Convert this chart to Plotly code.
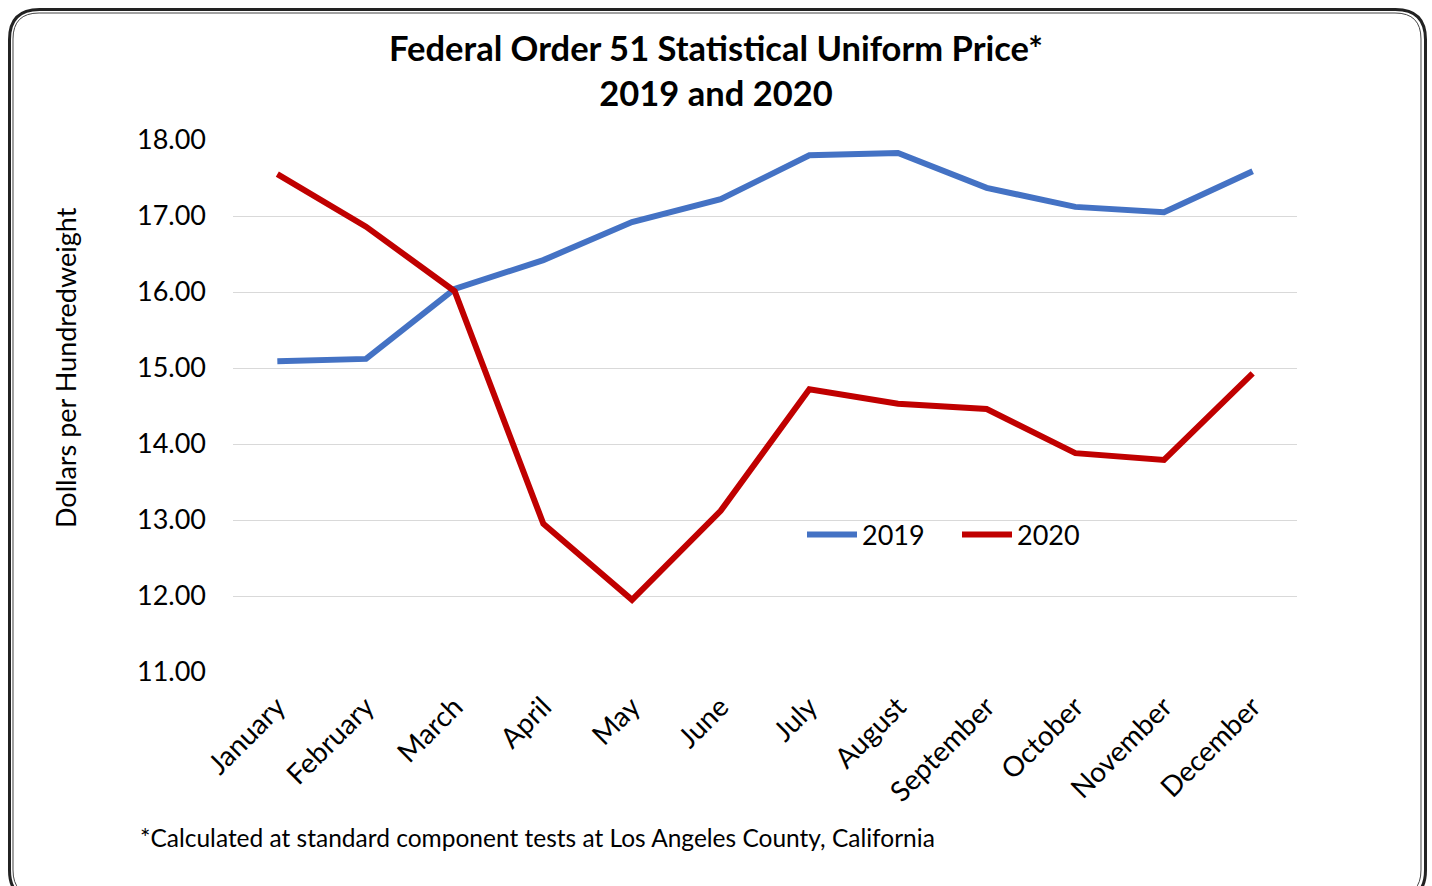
import plotly.graph_objects as go

months = ["January", "February", "March", "April", "May", "June", "July",
          "August", "September", "October", "November", "December"]
price_2019 = [15.09, 15.12, 16.04, 16.42, 16.92, 17.22, 17.80, 17.83, 17.37, 17.12, 17.05, 17.59]
price_2020 = [17.55, 16.86, 16.01, 12.95, 11.95, 13.12, 14.72, 14.53, 14.46, 13.88, 13.79, 14.93]
y_ticks = [11, 12, 13, 14, 15, 16, 17, 18]

W, H = 1432, 886
L, R, T, B = 233, 1297, 140, 672
FONT = "Lato"

def px_x(x):
    return (x - L) / (R - L)

def px_y(y):
    return (B - y) / (B - T)

def rounded_rect(x0, y0, x1, y1, r):
    pts = []
    a = lambda x, y: f"{px_x(x):.5f},{px_y(y):.5f}"
    pts.append("M" + a(x0 + r, y0))
    pts.append("L" + a(x1 - r, y0))
    pts.append("Q" + a(x1, y0) + " " + a(x1, y0 + r))
    pts.append("L" + a(x1, y1 - r))
    pts.append("Q" + a(x1, y1) + " " + a(x1 - r, y1))
    pts.append("L" + a(x0 + r, y1))
    pts.append("Q" + a(x0, y1) + " " + a(x0, y1 - r))
    pts.append("L" + a(x0, y0 + r))
    pts.append("Q" + a(x0, y0) + " " + a(x0 + r, y0))
    pts.append("Z")
    return " ".join(pts)

fig = go.Figure()
fig.add_trace(go.Scatter(x=months, y=price_2019, mode="lines", name="2019",
                         line=dict(color="#4472C4", width=6)))
fig.add_trace(go.Scatter(x=months, y=price_2020, mode="lines", name="2020",
                         line=dict(color="#C00000", width=6)))

fig.add_shape(type="path", xref="paper", yref="paper",
              path=rounded_rect(9.5, 9.5, 1425.5, 900, 30),
              line=dict(color="#222222", width=3), layer="above")
fig.add_shape(type="path", xref="paper", yref="paper",
              path=rounded_rect(13, 13, 1421, 896, 26),
              line=dict(color="#444444", width=1), layer="above")

fig.add_annotation(text="*Calculated at standard component tests at Los Angeles County, California",
                   xref="paper", yref="paper", x=px_x(138), y=px_y(837),
                   xanchor="left", yanchor="middle", showarrow=False,
                   font=dict(family=FONT, size=24.5, color="#000000"))

fig.add_annotation(text="Dollars per Hundredweight", textangle=-90,
                   xref="paper", yref="paper", x=px_x(65), y=px_y(368),
                   xanchor="center", yanchor="middle", showarrow=False,
                   font=dict(family=FONT, size=27, color="#000000"))

fig.update_layout(
    width=W, height=H,
    margin=dict(l=L, r=W - R, t=T, b=H - B, pad=0),
    paper_bgcolor="white", plot_bgcolor="white",
    font=dict(family=FONT, color="#000000"),
    title=dict(text="<b>Federal Order 51 Statistical Uniform Price*<br>2019 and 2020</b>",
               x=0.5, xref="container", xanchor="center",
               y=1 - 61 / H, yref="container", yanchor="middle",
               font=dict(family=FONT, size=34.5, color="#000000")),
    showlegend=True,
    legend=dict(orientation="h", x=px_x(802), y=px_y(535), xanchor="left", yanchor="middle",
                font=dict(family=FONT, size=27, color="#000000"),
                bgcolor="rgba(0,0,0,0)", itemwidth=50, entrywidth=90, tracegroupgap=0),
    xaxis=dict(type="category", categoryorder="array", categoryarray=months,
               range=[-0.5, 11.5], showgrid=False, showline=False, ticks="",
               tickangle=-45, ticklabelstandoff=12,
               tickfont=dict(family=FONT, size=28, color="#000000"),
               fixedrange=True),
    yaxis=dict(range=[11, 18], tickvals=y_ticks,
               ticktext=[f"{v:.2f}" for v in y_ticks],
               showgrid=True, gridcolor="#D9D9D9", gridwidth=1.3, zeroline=False,
               showline=False, ticks="", ticklabelstandoff=26,
               tickfont=dict(family=FONT, size=27, color="#000000"),
               fixedrange=True),
)

fig.write_html("out.html", config={"displayModeBar": False},
               post_script="document.body.style.margin='0px';")
